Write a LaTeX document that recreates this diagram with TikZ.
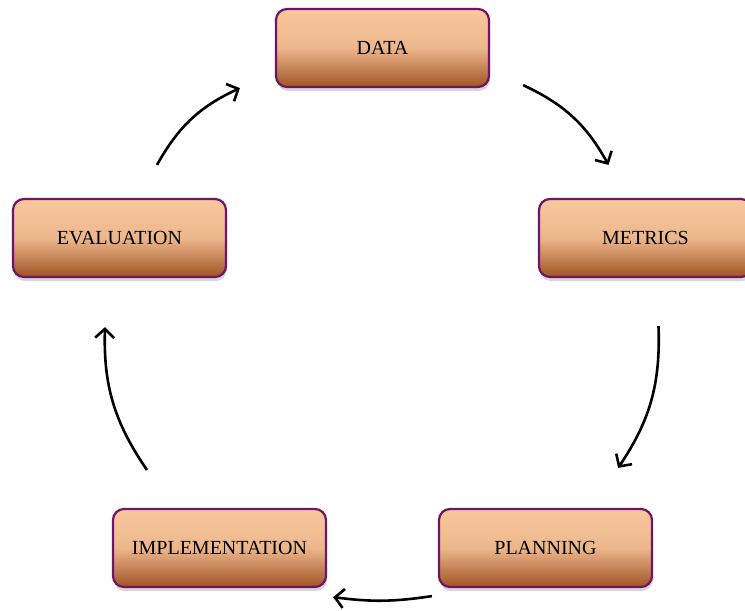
\documentclass[tikz,border=0pt]{standalone}
\usepackage{fontspec}
\setmainfont{Liberation Serif}
\usepackage{tikz}
\usetikzlibrary{arrows.meta,shadows}

\definecolor{peach}{RGB}{250,200,158}
\definecolor{rust}{RGB}{160,84,36}
\definecolor{plum}{RGB}{110,20,105}

\tikzset{
  stage/.style={draw=plum, line width=2.2pt, rounded corners=11pt,
    top color=peach, bottom color=rust, middle color=peach!85!rust,
    minimum width=213pt, minimum height=78pt,
    font=\fontsize{20}{24}\selectfont,
    drop shadow={shadow xshift=1pt, shadow yshift=-4pt, opacity=0.3}},
  cyc/.style={line width=2.6pt, -{Straight Barb[length=9pt,width=19pt,line width=2.6pt]}}
}

\begin{document}
\begin{tikzpicture}[x=1pt,y=-1pt]
\useasboundingbox (0,0) rectangle (745,611);
\fill[white] (0,0) rectangle (745,611);

\node[stage] (data) at (382.5,48) {DATA};
\node[stage] (metrics) at (645.5,238) {METRICS};
\node[stage] (planning) at (545.5,548) {PLANNING};
\node[stage] (impl) at (219.5,548) {IMPLEMENTATION};
\node[stage] (eval) at (119.5,238) {EVALUATION};

\draw[cyc] ([shift={(33,-3)}]data.south east) to[bend left=18] ([shift={(-37,-33)}]metrics.north);
\draw[cyc] ([shift={(13,48)}]metrics.south) to[bend left=18] ([shift={(-35,-40)}]planning.north east);
\draw[cyc] ([shift={(-6,8)}]planning.south west) to[bend left=8] ([shift={(6,9)}]impl.south east);
\draw[cyc] ([shift={(35,-38)}]impl.north west) to[bend left=18] ([shift={(-14.5,49)}]eval.south);
\draw[cyc] ([shift={(37.5,-33)}]eval.north) to[bend left=18] ([shift={(-35,0)}]data.south west);
\end{tikzpicture}
\end{document}
